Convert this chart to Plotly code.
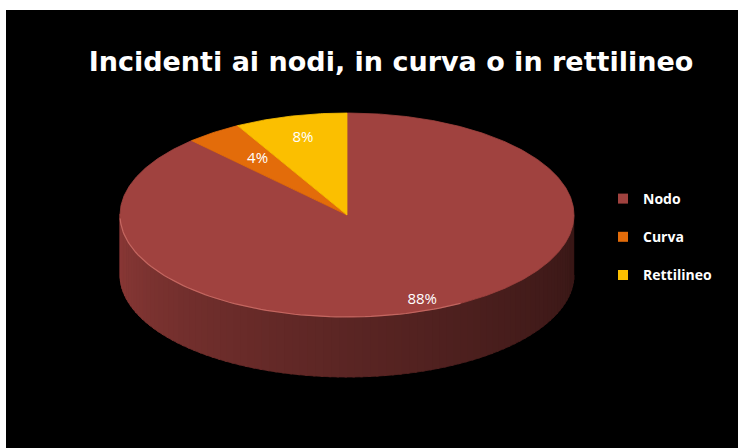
import numpy as np
import plotly.graph_objects as go

# ---- data ----
categories = ["Nodo", "Curva", "Rettilineo"]
values = [88, 4, 8]
labels = ["88%", "4%", "8%"]
colors = ["#A0423F", "#E36C0A", "#FBBF00"]
title_text = "Incidenti ai nodi, in curva o in rettilineo"

# ---- geometry of the tilted pie (pixel-like axis units) ----
W, H = 738, 448
cx, cy = 347, 215
a, b = 227, 102
depth = 60


def top_pt(theta_deg):
    t = np.radians(theta_deg)
    return cx + a * np.sin(t), cy - b * np.cos(t)


fig = go.Figure()

total = float(sum(values))
starts = np.cumsum([0] + values[:-1]) / total * 360.0
ends = np.cumsum(values) / total * 360.0

base_rgb = {
    0: (160, 66, 63),
    1: (227, 108, 10),
    2: (251, 191, 0),
}

# ---- side wall (only the front half, 90..270 deg, is visible) ----
n_strips = 90
edges = np.linspace(90, 270, n_strips + 1)
for i in range(n_strips):
    t0, t1 = edges[i], edges[i + 1]
    tm = 0.5 * (t0 + t1)
    k = int(np.searchsorted(ends, tm))
    k = min(k, len(values) - 1)
    f = 0.36 + 0.52 * ((tm - 90) / 180.0) ** 1.3
    r0, g0, b0 = base_rgb[k]
    col = "rgb(%d,%d,%d)" % (r0 * f, g0 * f, b0 * f)
    ts = np.linspace(t0, t1 + 0.6, 4)
    xs_top, ys_top = top_pt(ts)
    xs = list(xs_top) + list(xs_top[::-1])
    ys = list(ys_top) + list((ys_top + depth)[::-1])
    fig.add_trace(go.Scatter(
        x=xs, y=ys, mode="lines", fill="toself", fillcolor=col,
        line=dict(color=col, width=0.8), hoverinfo="skip", showlegend=False))

# ---- top faces of the slices ----
for k, (s, e) in enumerate(zip(starts, ends)):
    ts = np.linspace(s, e, max(8, int((e - s) * 2)))
    xs, ys = top_pt(ts)
    xs = [cx] + list(xs) + [cx]
    ys = [cy] + list(ys) + [cy]
    fig.add_trace(go.Scatter(
        x=xs, y=ys, mode="lines", fill="toself", fillcolor=colors[k],
        line=dict(color=colors[k], width=0.8), hoverinfo="skip",
        showlegend=False))

# highlight on the front rim
ts = np.linspace(150, 268, 80)
hx, hy = top_pt(ts)
fig.add_trace(go.Scatter(x=hx, y=hy, mode="lines",
                         line=dict(color="rgba(215,120,112,0.7)", width=1.2),
                         hoverinfo="skip", showlegend=False))

# ---- percentage labels ----
mids = 0.5 * (starts + ends)
lr = [0.9, 0.67, 0.78]
lx, ly = [], []
for m, r in zip(mids, lr):
    t = np.radians(m)
    lx.append(cx + a * r * np.sin(t))
    ly.append(cy - b * r * np.cos(t))
fig.add_trace(go.Scatter(
    x=lx, y=ly, mode="text", text=labels,
    textfont=dict(color="white", size=15, family="Open Sans"),
    hoverinfo="skip", showlegend=False))

# ---- legend entries ----
for k, cat in enumerate(categories):
    fig.add_trace(go.Scatter(
        x=[None], y=[None], mode="markers", name=cat,
        marker=dict(symbol="square", size=10, color=colors[k]),
        legendgroup=cat))

fig.update_layout(
    width=W, height=H,
    margin=dict(l=6, r=0, t=10, b=0),
    paper_bgcolor="white",
    plot_bgcolor="black",
    xaxis=dict(range=[6, W], visible=False, fixedrange=True),
    yaxis=dict(range=[H, 10], visible=False, fixedrange=True),
    title=dict(text=title_text, x=391 / W, y=1 - 62 / H,
               xanchor="center", yanchor="middle",
               font=dict(family="DejaVu Sans", size=27, color="white",
                         weight="bold")),
    legend=dict(x=(603 - 6) / 732, y=1 - (183 - 10) / 438,
                xanchor="left", yanchor="top",
                bgcolor="rgba(0,0,0,0)",
                font=dict(family="Open Sans", size=14, color="white",
                          weight="bold"),
                tracegroupgap=17, itemwidth=30),
    showlegend=True,
)

fig.write_html("out.html")
